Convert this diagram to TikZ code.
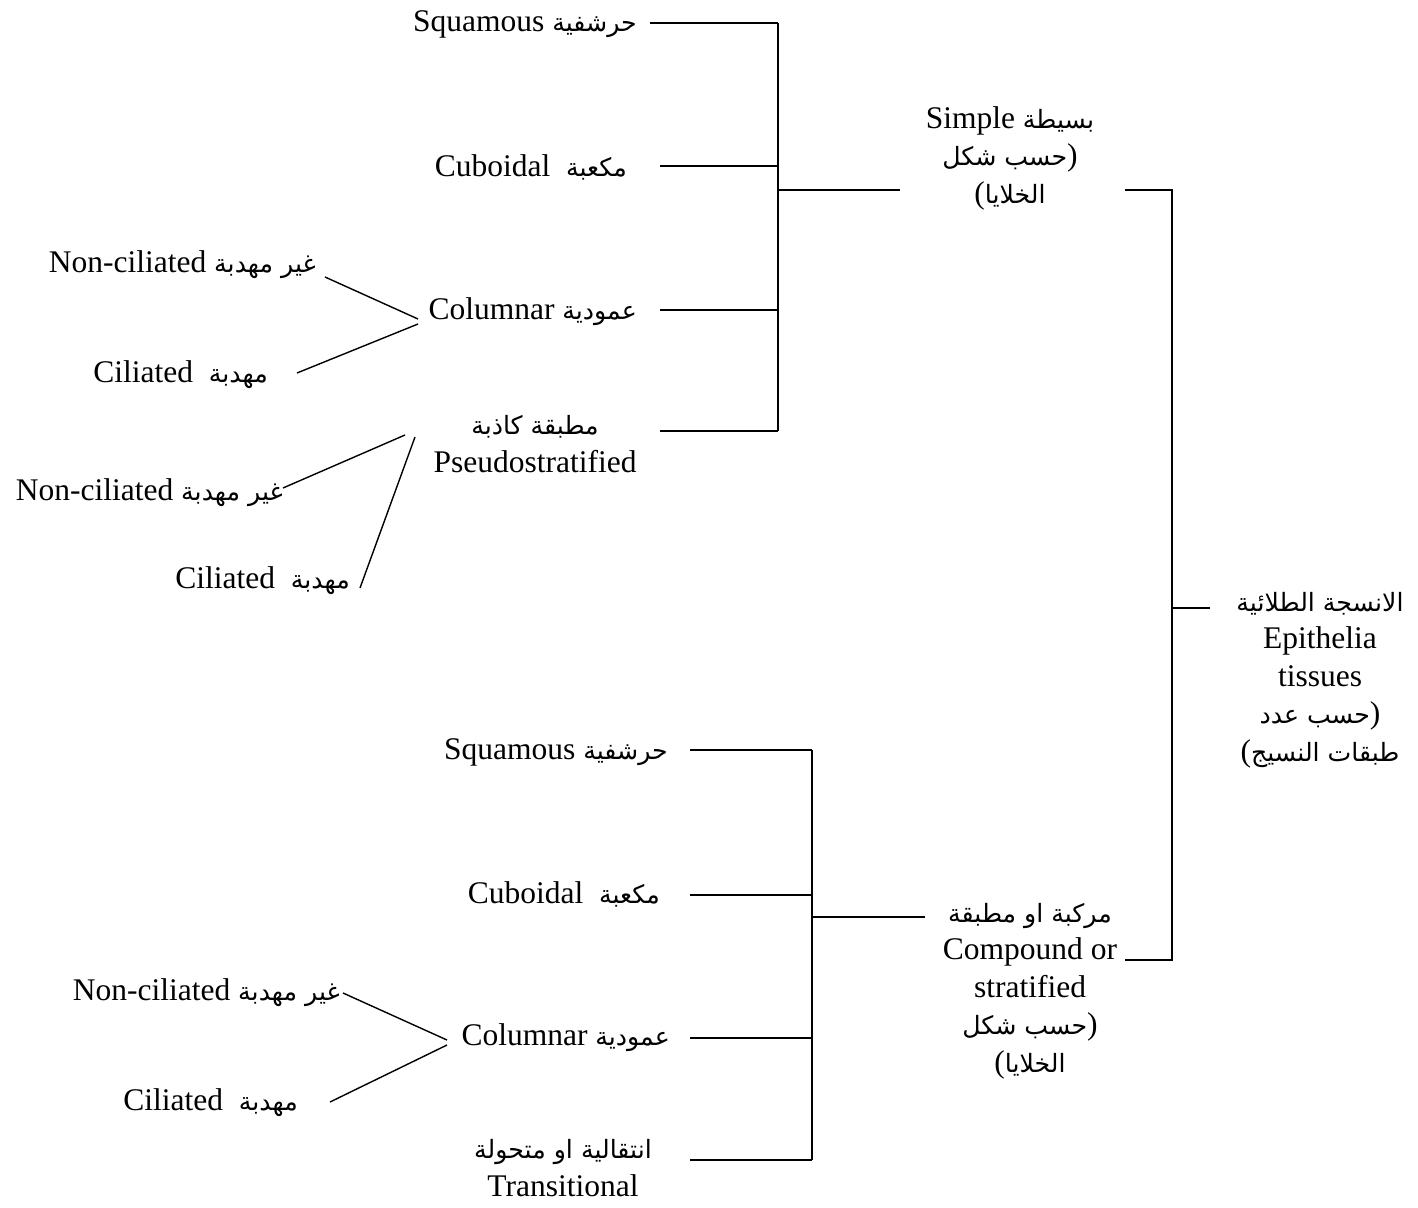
\documentclass[tikz,border=0pt]{standalone}
\usepackage{fontspec}
\setmainfont{Liberation Serif}
\newfontfamily\arabicfont[Script=Arabic,Scale=0.8]{DejaVu Sans}
\TeXXeTstate=1
\newcommand{\AR}[1]{{\arabicfont\beginR #1\endR}}
\begin{document}
\begin{tikzpicture}[x=1pt,y=-1pt,
  lbl/.style={inner sep=0pt, font=\fontsize{31.5}{37.5}\selectfont},
  blk/.style={lbl, align=center},
  ln/.style={line width=1.4pt}]
\useasboundingbox (0,0) rectangle (1418,1207);
% ---------- top group ----------
\node[lbl,anchor=base east] (t1) at (637,32) {Squamous \AR{حرشفية}};
\node[lbl,anchor=base east] (t2) at (627,176) {Cuboidal\ \ \AR{مكعبة}};
\node[lbl,anchor=base east] (t3) at (637,319) {Columnar \AR{عمودية}};
\node[blk] (t4) at (535,444) {\AR{مطبقة كاذبة}\\Pseudostratified};
\node[lbl,anchor=base east] (t31) at (316,272) {Non-ciliated \AR{غير مهدبة}};
\node[lbl,anchor=base east] (t32) at (268,382) {Ciliated\ \ \AR{مهدبة}};
\node[lbl,anchor=base east] (t41) at (283,500) {Non-ciliated \AR{غير مهدبة}};
\node[lbl,anchor=base east] (t42) at (350,588) {Ciliated\ \ \AR{مهدبة}};
\node[blk] (simple) at (1010,158) {Simple \AR{بسيطة}\\\AR{حسب شكل})\\(\AR{الخلايا}};
% ---------- root ----------
\node[blk] (epi) at (1320,680) {\AR{الانسجة الطلائية}\\Epithelia\\tissues\\\AR{حسب عدد})\\(\AR{طبقات النسيج}};
% ---------- bottom group ----------
\node[blk] (comp) at (1030,991) {\AR{مركبة او مطبقة}\\Compound or\\stratified\\\AR{حسب شكل})\\(\AR{الخلايا}};
\node[lbl,anchor=base east] (b1) at (668,759) {Squamous \AR{حرشفية}};
\node[lbl,anchor=base east] (b2) at (660,903) {Cuboidal\ \ \AR{مكعبة}};
\node[lbl,anchor=base east] (b3) at (670,1045) {Columnar \AR{عمودية}};
\node[blk] (b4) at (563,1168) {\AR{انتقالية او متحولة}\\Transitional};
\node[lbl,anchor=base east] (b31) at (340,1000) {Non-ciliated \AR{غير مهدبة}};
\node[lbl,anchor=base east] (b32) at (298,1110) {Ciliated\ \ \AR{مهدبة}};
% ---------- coordinates ----------
\coordinate (t1e) at (650,23);   \coordinate (t1j) at (778,23);
\coordinate (t2e) at (660,166);  \coordinate (t2j) at (778,166);
\coordinate (t3e) at (660,310);  \coordinate (t3j) at (778,310);
\coordinate (t4e) at (660,431);  \coordinate (t4j) at (778,431);
\coordinate (tmid) at (778,190); \coordinate (simW) at (900,190);
\coordinate (simE) at (1125,190); \coordinate (rTop) at (1172,190);
\coordinate (rMid) at (1172,608); \coordinate (epiW) at (1210,608);
\coordinate (rBot) at (1172,960); \coordinate (compE) at (1125,960);
\coordinate (t3w1) at (418,319); \coordinate (t3w2) at (418,324);
\coordinate (t31e) at (325,277); \coordinate (t32e) at (297,373);
\coordinate (t4w1) at (405,435); \coordinate (t4w2) at (415,437);
\coordinate (t41e) at (283,488); \coordinate (t42e) at (360,588);
\coordinate (b1e) at (690,750);  \coordinate (b1j) at (812,750);
\coordinate (b2e) at (690,895);  \coordinate (b2j) at (812,895);
\coordinate (b3e) at (690,1038); \coordinate (b3j) at (812,1038);
\coordinate (b4e) at (690,1160); \coordinate (b4j) at (812,1160);
\coordinate (bmid) at (812,917); \coordinate (compW) at (925,917);
\coordinate (b3w1) at (447,1040); \coordinate (b3w2) at (447,1045);
\coordinate (b31e) at (343,993); \coordinate (b32e) at (330,1102);
% ---------- connectors ----------
\draw[ln] (t1e) -- (t1j);
\draw[ln] (t2e) -- (t2j);
\draw[ln] (t3e) -- (t3j);
\draw[ln] (t4e) -- (t4j);
\draw[ln] (t1j) -- (t4j);
\draw[ln] (tmid) -- (simW);
\draw[ln] (t31e) -- (t3w1);
\draw[ln] (t32e) -- (t3w2);
\draw[ln] (t41e) -- (t4w1);
\draw[ln] (t42e) -- (t4w2);
\draw[ln] (simE) -- (rTop) -- (rBot) -- (compE);
\draw[ln] (rMid) -- (epiW);
\draw[ln] (b1e) -- (b1j);
\draw[ln] (b2e) -- (b2j);
\draw[ln] (b3e) -- (b3j);
\draw[ln] (b4e) -- (b4j);
\draw[ln] (b1j) -- (b4j);
\draw[ln] (bmid) -- (compW);
\draw[ln] (b31e) -- (b3w1);
\draw[ln] (b32e) -- (b3w2);
\end{tikzpicture}
\end{document}
